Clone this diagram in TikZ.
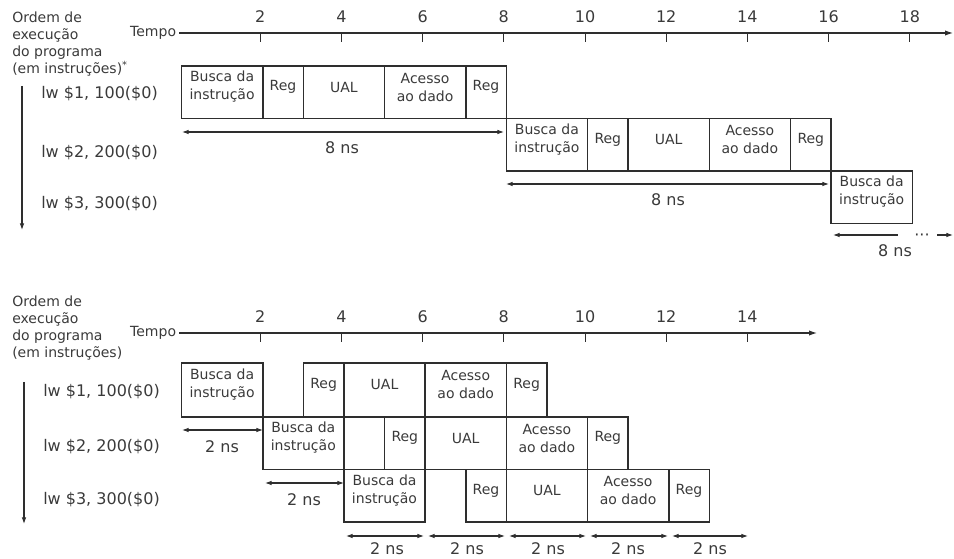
\documentclass[tikz,border=0pt]{standalone}
\usepackage{fontspec}
\setmainfont{DejaVu Sans}
\usetikzlibrary{arrows.meta,fit}
\definecolor{ink}{HTML}{3A3A3A}
\definecolor{linec}{HTML}{2E2E2E}
\newcommand\pcell[6]{\node[cell, fit={({181.5+40.6*(#2)},#4) ({181.5+40.6*(#3)},#5)}] (#1) {#6};}
\begin{document}
\begin{tikzpicture}[x=0.75pt,y=-0.75pt,
  cell/.style={draw=linec, line width=1.2pt, inner sep=0pt, align=center, font=\fontsize{10.5}{13.5}\selectfont, text=ink},
  lbl/.style={inner sep=0pt, text=ink, font=\fontsize{10.5}{12.8}\selectfont, align=left},
  instr/.style={inner sep=0pt, anchor=west, text=ink, font=\fontsize{12}{14}\selectfont},
  num/.style={inner sep=0pt, text=ink, font=\fontsize{12}{14}\selectfont},
  nslab/.style={inner sep=0pt, text=ink, font=\fontsize{12}{14}\selectfont},
  axis/.style={draw=linec, line width=0.8pt, -{Latex[length=6pt,width=4pt]}},
  tick/.style={draw=linec, line width=0.6pt},
  dim/.style={draw=linec, line width=0.8pt, {Latex[length=5pt,width=3.5pt]}-{Latex[length=5pt,width=3.5pt]}},
  ldim/.style={draw=linec, line width=0.8pt, {Latex[length=5pt,width=3.5pt]}-},
  rdim/.style={draw=linec, line width=0.8pt, -{Latex[length=5pt,width=3.5pt]}},
]
\useasboundingbox (0,0) rectangle (954,559);

% ================= TOP DIAGRAM =================
\node[lbl, anchor=west] (ord1) at (12,44) {Ordem de\\execução\\do programa\\(em instruções)\textsuperscript{*}};
\node[lbl, anchor=east, inner xsep=2pt] (tempo1) at (179,33) {Tempo};
\coordinate (ax1e) at (953,33);
\draw[axis] (tempo1.east) -- (ax1e);
\foreach \tv in {2,4,...,18} {
  \draw[tick] ({179+40.6*\tv},33) -- ({179+40.6*\tv},42);
  \node[num] (tn1-\tv) at ({179+40.6*\tv},17) {\tv};
}
\coordinate (v1s) at (22,86);
\coordinate (v1e) at (22,230);
\draw[rdim] (v1s) -- (v1e);
\node[instr] (i11) at (41,94) {lw \$1, 100(\$0)};
\node[instr] (i12) at (41,153) {lw \$2, 200(\$0)};
\node[instr] (i13) at (41,204) {lw \$3, 300(\$0)};

\pcell{r1a}{0}{2}{66}{118.5}{Busca da\\instrução}
\pcell{r1b}{2}{3}{66}{118.5}{Reg}
\pcell{r1c}{3}{5}{66}{118.5}{UAL}
\pcell{r1d}{5}{7}{66}{118.5}{Acesso\\ao dado}
\pcell{r1e}{7}{8}{66}{118.5}{Reg}

\pcell{r2a}{8}{10}{118.5}{171}{Busca da\\instrução}
\pcell{r2b}{10}{11}{118.5}{171}{Reg}
\pcell{r2c}{11}{13}{118.5}{171}{UAL}
\pcell{r2d}{13}{15}{118.5}{171}{Acesso\\ao dado}
\pcell{r2e}{15}{16}{118.5}{171}{Reg}

\pcell{r3a}{16}{18}{171}{223.5}{Busca da\\instrução}

\coordinate (d1l) at (182,132);
\coordinate (d1r) at (504,132);
\draw[dim] (d1l) -- (d1r);
\node[nslab] (l1) at (342,148) {8 ns};
\coordinate (d2l) at (506,184);
\coordinate (d2r) at (829,184);
\draw[dim] (d2l) -- (d2r);
\node[nslab] (l2) at (668,200) {8 ns};
\coordinate (d3l) at (833,235);
\coordinate (d3r) at (898,235);
\draw[ldim] (d3l) -- (d3r);
\node[nslab, anchor=base] (dots) at (922,240.5) {···};
\coordinate (d3s) at (937,235);
\coordinate (d3e) at (953,235);
\draw[rdim] (d3s) -- (d3e);
\node[nslab] (l3) at (895,251) {8 ns};

% ================= BOTTOM DIAGRAM =================
\node[lbl, anchor=west] (ord2) at (12,328) {Ordem de\\execução\\do programa\\(em instruções)};
\node[lbl, anchor=east, inner xsep=2pt] (tempo2) at (179,333) {Tempo};
\coordinate (ax2e) at (817,333);
\draw[axis] (tempo2.east) -- (ax2e);
\foreach \tv in {2,4,...,14} {
  \draw[tick] ({179+40.6*\tv},333) -- ({179+40.6*\tv},342);
  \node[num] (tn2-\tv) at ({179+40.6*\tv},317) {\tv};
}
\coordinate (v2s) at (24,382);
\coordinate (v2e) at (24,524);
\draw[rdim] (v2s) -- (v2e);
\node[instr] (i21) at (43,392) {lw \$1, 100(\$0)};
\node[instr] (i22) at (43,447) {lw \$2, 200(\$0)};
\node[instr] (i23) at (43,500) {lw \$3, 300(\$0)};

\pcell{s1a}{0}{2}{363}{417}{Busca da\\instrução}
\pcell{s1b}{3}{4}{363}{417}{Reg}
\pcell{s1c}{4}{6}{363}{417}{UAL}
\pcell{s1d}{6}{8}{363}{417}{Acesso\\ao dado}
\pcell{s1e}{8}{9}{363}{417}{Reg}

\pcell{s2a}{2}{4}{417}{469.5}{Busca da\\instrução}
\pcell{s2b}{5}{6}{417}{469.5}{Reg}
\pcell{s2c}{6}{8}{417}{469.5}{UAL}
\pcell{s2d}{8}{10}{417}{469.5}{Acesso\\ao dado}
\pcell{s2e}{10}{11}{417}{469.5}{Reg}

\pcell{s3a}{4}{6}{469.5}{522}{Busca da\\instrução}
\pcell{s3b}{7}{8}{469.5}{522}{Reg}
\pcell{s3c}{8}{10}{469.5}{522}{UAL}
\pcell{s3d}{10}{12}{469.5}{522}{Acesso\\ao dado}
\pcell{s3e}{12}{13}{469.5}{522}{Reg}

\coordinate (e1l) at (182,430);
\coordinate (e1r) at (263,430);
\draw[dim] (e1l) -- (e1r);
\node[nslab] (m1) at (222,447) {2 ns};
\coordinate (e2l) at (265,483);
\coordinate (e2r) at (344,483);
\draw[dim] (e2l) -- (e2r);
\node[nslab] (m2) at (304,500) {2 ns};

\coordinate (f1l) at (346,536); \coordinate (f1r) at (424,536);
\coordinate (f2l) at (428,536); \coordinate (f2r) at (505,536);
\coordinate (f3l) at (509,536); \coordinate (f3r) at (586,536);
\coordinate (f4l) at (590,536); \coordinate (f4r) at (668,536);
\coordinate (f5l) at (672,536); \coordinate (f5r) at (748,536);
\draw[dim] (f1l) -- (f1r);
\draw[dim] (f2l) -- (f2r);
\draw[dim] (f3l) -- (f3r);
\draw[dim] (f4l) -- (f4r);
\draw[dim] (f5l) -- (f5r);
\node[nslab] (n1) at (387,549) {2 ns};
\node[nslab] (n2) at (467,549) {2 ns};
\node[nslab] (n3) at (548,549) {2 ns};
\node[nslab] (n4) at (628,549) {2 ns};
\node[nslab] (n5) at (710,549) {2 ns};
\end{tikzpicture}
\end{document}
